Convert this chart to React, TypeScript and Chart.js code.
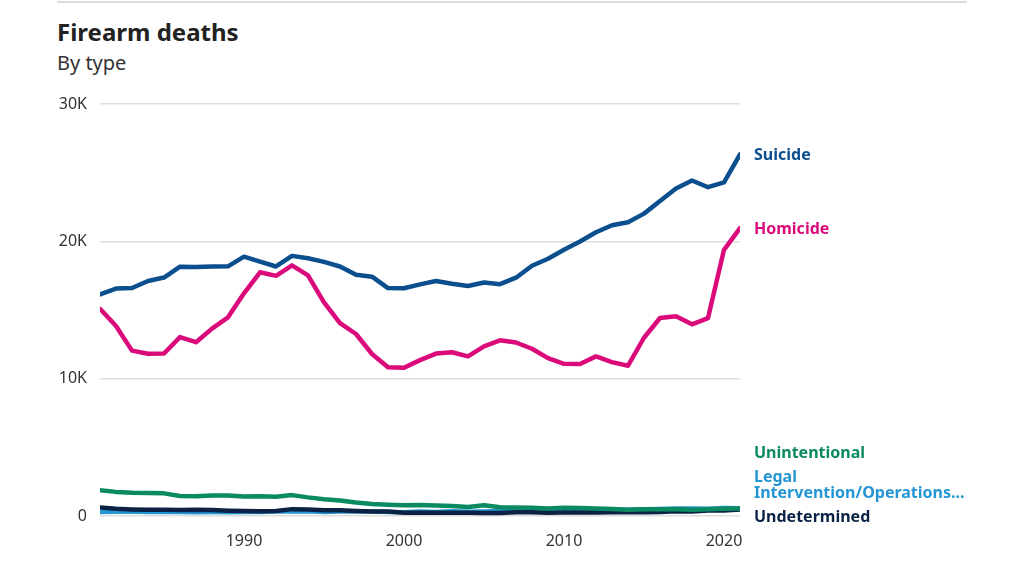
import React, { useEffect, useRef } from "react";
import { Chart, registerables } from "chart.js";

Chart.register(...registerables);

const years = Array.from({ length: 41 }, (_, i) => 1981 + i);
const xTicks = [1990, 2000, 2010, 2020];
const yTicks = [0, 10000, 20000, 30000];

const suicide = [16139, 16560, 16600, 17113, 17363, 18153, 18136, 18169, 18178, 18885, 18526, 18169, 18940, 18765, 18503, 18166, 17566, 17424, 16599, 16586, 16869, 17108, 16907, 16750, 17002, 16883, 17352, 18223, 18735, 19392, 19990, 20666, 21175, 21386, 22018, 22938, 23854, 24432, 23941, 24292, 26328];
const homicide = [15089, 13841, 12040, 11815, 11836, 13029, 12657, 13645, 14464, 16218, 17746, 17488, 18253, 17527, 15551, 14037, 13252, 11798, 10828, 10801, 11348, 11829, 11920, 11624, 12352, 12791, 12632, 12179, 11493, 11078, 11068, 11622, 11208, 10945, 12979, 14415, 14542, 13958, 14414, 19384, 20958];
const unintentional = [1871, 1756, 1695, 1668, 1649, 1452, 1440, 1501, 1489, 1416, 1441, 1409, 1521, 1356, 1225, 1134, 981, 866, 824, 776, 802, 762, 730, 649, 789, 642, 613, 592, 554, 606, 591, 548, 505, 461, 489, 495, 486, 458, 486, 535, 549];
const legal = [300, 310, 330, 290, 300, 290, 280, 290, 280, 290, 300, 330, 320, 340, 290, 320, 320, 330, 300, 270, 320, 300, 350, 310, 330, 360, 350, 350, 330, 340, 430, 430, 470, 460, 490, 510, 550, 540, 520, 580, 560];
const undetermined = [620, 520, 480, 460, 450, 440, 460, 440, 390, 360, 340, 370, 500, 480, 420, 410, 370, 330, 320, 230, 230, 240, 240, 230, 220, 220, 280, 270, 230, 250, 250, 260, 280, 270, 280, 300, 340, 330, 400, 400, 480];

const seriesNames = ["Suicide", "Homicide", "Unintentional", "Legal\nIntervention/Operations...", "Undetermined"];
const seriesValues = [suicide, homicide, unintentional, legal, undetermined];
const seriesColors = ["#0b4f8f", "#db0a7b", "#0a8a63", "#2596d4", "#0b2244"];

const FONT = "'Source Sans Pro', 'Noto Sans', sans-serif";

const endLabels = {
  id: "endLabels",
  afterDatasetsDraw(chart: any) {
    const { ctx, chartArea, scales } = chart;
    const lh = 16;
    const gap = 8;
    const items = chart.data.datasets.map((ds: any) => {
      const lines = String(ds.label).split("\n");
      const last = ds.data[ds.data.length - 1];
      const yc = scales.y.getPixelForValue(last.y);
      const h = lines.length * lh;
      return { lines, color: ds.borderColor, top: yc - h / 2, h };
    });
    for (let i = 1; i < items.length; i++) {
      const prevBottom = items[i - 1].top + items[i - 1].h;
      if (items[i].top < prevBottom + gap) items[i].top = prevBottom + gap;
    }
    let limit = chartArea.bottom + 8;
    for (let i = items.length - 1; i >= 0; i--) {
      const b = items[i].top + items[i].h;
      if (b > limit) items[i].top -= b - limit;
      limit = items[i].top - gap;
    }
    ctx.save();
    ctx.font = `bold 16px ${FONT}`;
    ctx.textAlign = "left";
    ctx.textBaseline = "middle";
    items.forEach((it: any) => {
      ctx.fillStyle = it.color;
      it.lines.forEach((ln: string, j: number) => {
        ctx.fillText(ln, chartArea.right + 14, it.top + lh / 2 + j * lh + 1);
      });
    });
    ctx.restore();
  },
};

export default function App() {
  const ref = useRef<HTMLCanvasElement>(null);
  useEffect(() => {
    if (!ref.current) return;
    const chart = new Chart(ref.current, {
      type: "line",
      data: {
        datasets: seriesNames.map((name, i) => ({
          label: name,
          data: years.map((yr, j) => ({ x: yr, y: seriesValues[i][j] })),
          borderColor: seriesColors[i],
          backgroundColor: seriesColors[i],
          borderWidth: 4.5,
          pointRadius: 0,
          tension: 0,
          borderCapStyle: "round",
          borderJoinStyle: "round",
          order: i === 3 ? 5 : i === 4 ? 4 : i,
        })),
      },
      options: {
        animation: false,
        responsive: false,
        devicePixelRatio: 1,
        layout: { padding: { left: 0, right: 284, top: 104, bottom: 0 } },
        plugins: { legend: { display: false }, tooltip: { enabled: false } },
        scales: {
          x: {
            type: "linear",
            min: 1981,
            max: 2021,
            border: { display: false },
            grid: { display: false, drawTicks: false },
            afterBuildTicks: (s: any) => {
              s.ticks = xTicks.map((v) => ({ value: v }));
            },
            afterFit: (s: any) => {
              s.height = 60;
            },
            ticks: {
              padding: 16,
              color: "#333",
              font: { family: FONT, size: 16 },
              callback: (v: any) => String(v),
              maxRotation: 0,
            },
          },
          y: {
            min: 0,
            max: 30000,
            border: { display: false },
            grid: { color: "#dedede", lineWidth: 1.5, drawTicks: false },
            afterBuildTicks: (s: any) => {
              s.ticks = yTicks.map((v) => ({ value: v }));
            },
            afterFit: (s: any) => {
              s.width = 100;
            },
            ticks: {
              padding: 13,
              color: "#333",
              font: { family: FONT, size: 16 },
              callback: (v: any) => (v === 0 ? "0" : v / 1000 + "K"),
            },
          },
        },
      },
      plugins: [endLabels],
    });
    return () => chart.destroy();
  }, []);

  return (
    <div style={{ position: "fixed", left: 0, top: 0, width: 1024, height: 576, background: "#fff", fontFamily: FONT }}>
      <div style={{ position: "absolute", left: 57, top: 1, width: 910, height: 2, background: "#dcdcdc" }} />
      <div style={{ position: "absolute", left: 57, top: 15, fontSize: 24, fontWeight: 700, color: "#222" }}>Firearm deaths</div>
      <div style={{ position: "absolute", left: 57, top: 49, fontSize: 20, color: "#333" }}>By type</div>
      <canvas ref={ref} width={1024} height={576} style={{ position: "absolute", left: 0, top: 0 }} />
    </div>
  );
}
